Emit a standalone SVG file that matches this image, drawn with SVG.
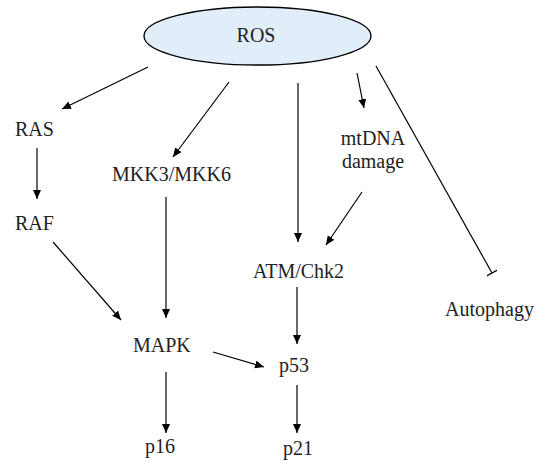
<svg xmlns="http://www.w3.org/2000/svg" width="545" height="466" viewBox="0 0 545 466">
<defs>
<marker id="ah" markerUnits="userSpaceOnUse" markerWidth="10" markerHeight="8" refX="9" refY="4" orient="auto">
<path d="M0,0 L9,4 L0,8 Z" fill="#000"/>
</marker>
<marker id="tb" markerUnits="userSpaceOnUse" markerWidth="2" markerHeight="12" refX="1" refY="6" orient="auto">
<path d="M1,0 L1,12" stroke="#000" stroke-width="1.2"/>
</marker>
<style>
text{font-family:"Liberation Serif","Times New Roman",serif;font-size:20px;fill:#222}
.c{stroke:#000;stroke-width:1.2;fill:none}
.a{marker-end:url(#ah)}
</style>
</defs>
<g id="ROS"><ellipse cx="257.5" cy="36" rx="113.5" ry="29" fill="#e1edf9" stroke="#000" stroke-width="1.3"/><text x="256" y="42" text-anchor="middle">ROS</text></g>
<g id="RAS"><text x="15" y="136">RAS</text></g>
<g id="RAF"><text x="15" y="230">RAF</text></g>
<g id="MKK"><text x="112" y="181">MKK3/MKK6</text></g>
<g id="mtDNA"><text x="373" y="145" text-anchor="middle">mtDNA</text><text x="373" y="168" text-anchor="middle">damage</text></g>
<g id="ATM"><text x="253" y="278">ATM/Chk2</text></g>
<g id="Autophagy"><text x="445" y="316">Autophagy</text></g>
<g id="MAPK"><text x="133" y="352">MAPK</text></g>
<g id="p53"><text x="279" y="372">p53</text></g>
<g id="p16"><text x="145" y="453">p16</text></g>
<g id="p21"><text x="283" y="455">p21</text></g>
<g id="connectors">
<line class="c a" x1="148" y1="67" x2="62" y2="109"/>
<line class="c a" x1="229" y1="82" x2="173" y2="157"/>
<line class="c a" x1="37" y1="148" x2="37" y2="199"/>
<line class="c a" x1="53" y1="242" x2="121" y2="320"/>
<line class="c a" x1="166" y1="197" x2="166" y2="318"/>
<line class="c a" x1="298" y1="83" x2="298" y2="242"/>
<line class="c a" x1="357" y1="73" x2="364" y2="108"/>
<line class="c a" x1="362" y1="192" x2="326" y2="245"/>
<line class="c" x1="376" y1="66" x2="492" y2="273" marker-end="url(#tb)"/>
<line class="c a" x1="297" y1="287" x2="297" y2="344"/>
<line class="c a" x1="213" y1="352" x2="264" y2="367"/>
<line class="c a" x1="166" y1="372" x2="166" y2="433"/>
<line class="c a" x1="297" y1="385" x2="297" y2="433"/>
</g>
</svg>
